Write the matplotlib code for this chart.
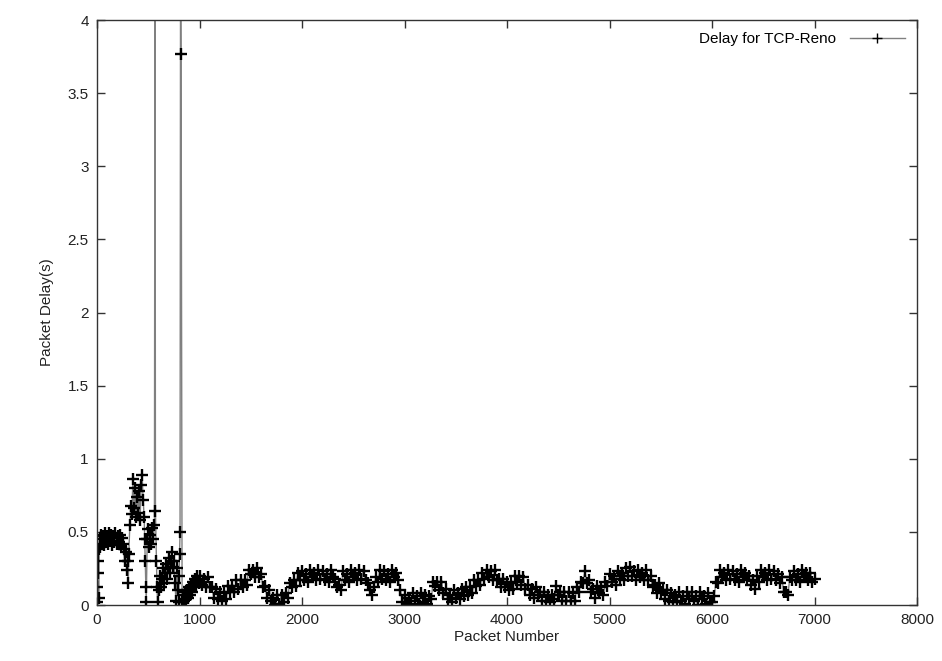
import matplotlib
matplotlib.use("Agg")
import matplotlib.pyplot as plt
import numpy as np
from matplotlib.ticker import FormatStrFormatter, MultipleLocator

plt.rcParams.update({"font.family": ["Liberation Sans", "DejaVu Sans"], "font.size": 11})

# --- packets 0..990, read point by point (the two spikes included) ---
early_points = [
    (0, 0.02), (4, 0.12), (8, 0.22), (12, 0.30), (16, 0.05), (20, 0.38), (25, 0.45), (30, 0.40),
    (40, 0.48), (50, 0.42), (60, 0.47), (70, 0.41), (80, 0.49), (90, 0.43), (100, 0.47),
    (110, 0.42), (120, 0.49), (130, 0.44), (140, 0.48), (150, 0.41), (160, 0.47), (170, 0.43),
    (180, 0.49), (190, 0.42), (200, 0.47), (210, 0.43), (220, 0.48), (230, 0.41), (240, 0.46),
    (250, 0.42), (260, 0.38), (270, 0.30), (280, 0.36), (290, 0.24), (300, 0.30), (305, 0.15),
    (310, 0.35), (320, 0.55), (330, 0.68), (340, 0.62), (350, 0.86), (360, 0.66), (370, 0.80),
    (380, 0.60), (390, 0.74), (400, 0.63), (410, 0.78), (420, 0.58), (430, 0.82), (440, 0.89),
    (450, 0.72), (460, 0.60), (465, 0.45), (470, 0.30), (475, 0.12), (480, 0.02), (490, 0.45),
    (500, 0.52), (510, 0.40), (520, 0.48), (530, 0.42), (540, 0.53), (550, 0.45), (560, 0.55),
    (566, 4.60), (570, 0.64), (580, 0.30), (585, 0.12), (590, 0.02), (600, 0.10), (610, 0.20),
    (620, 0.12), (630, 0.18), (640, 0.25), (650, 0.15), (660, 0.22), (670, 0.28), (680, 0.18),
    (690, 0.25), (700, 0.32), (710, 0.22), (720, 0.30), (730, 0.36), (740, 0.26), (750, 0.30),
    (760, 0.15), (770, 0.03), (780, 0.25), (790, 0.10), (795, 0.02), (800, 0.20), (805, 0.35),
    (810, 0.50), (815, 4.50), (820, 3.77), (830, 0.02), (840, 0.07), (850, 0.03), (860, 0.09),
    (870, 0.04), (880, 0.10), (890, 0.05), (900, 0.12), (910, 0.07), (920, 0.13), (930, 0.09),
    (940, 0.16), (950, 0.12), (960, 0.18), (970, 0.14), (980, 0.20), (990, 0.15),
]
early_packets = [p for p, _ in early_points]
early_delays = [d for _, d in early_points]

# --- packets 1000..7000, one value every 20 packets (10 per row = 200 packets) ---
main_start, main_step = 1000, 20
main_delays = [
    0.20, 0.14, 0.18, 0.12, 0.19, 0.12, 0.12, 0.05, 0.11, 0.04,  # 1000
    0.09, 0.03, 0.08, 0.04, 0.13, 0.09, 0.13, 0.09, 0.17, 0.11,  # 1200
    0.17, 0.12, 0.17, 0.14, 0.24, 0.21, 0.24, 0.19, 0.25, 0.19,  # 1400
    0.21, 0.12, 0.13, 0.05, 0.10, 0.03, 0.05, 0.00, 0.07, 0.01,  # 1600
    0.07, 0.02, 0.08, 0.05, 0.15, 0.12, 0.17, 0.13, 0.22, 0.17,  # 1800
    0.23, 0.17, 0.21, 0.16, 0.24, 0.19, 0.22, 0.17, 0.24, 0.18,  # 2000
    0.23, 0.17, 0.21, 0.16, 0.24, 0.19, 0.18, 0.12, 0.14, 0.10,  # 2200
    0.23, 0.17, 0.21, 0.16, 0.24, 0.19, 0.22, 0.17, 0.24, 0.18,  # 2400
    0.23, 0.17, 0.15, 0.10, 0.07, 0.12, 0.19, 0.16, 0.24, 0.18,  # 2600
    0.23, 0.17, 0.21, 0.16, 0.24, 0.19, 0.22, 0.17, 0.10, 0.02,  # 2800
    0.07, 0.01, 0.05, 0.00, 0.08, 0.03, 0.06, 0.01, 0.08, 0.02,  # 3000
    0.07, 0.01, 0.06, 0.04, 0.16, 0.13, 0.16, 0.10, 0.16, 0.08,  # 3200
    0.11, 0.04, 0.07, 0.02, 0.10, 0.05, 0.08, 0.04, 0.11, 0.06,  # 3400
    0.12, 0.07, 0.12, 0.08, 0.17, 0.13, 0.17, 0.14, 0.22, 0.18,  # 3600
    0.24, 0.19, 0.23, 0.17, 0.24, 0.17, 0.18, 0.12, 0.18, 0.12,  # 3800
    0.16, 0.10, 0.15, 0.11, 0.20, 0.16, 0.20, 0.14, 0.19, 0.11,  # 4000
    0.14, 0.07, 0.11, 0.05, 0.12, 0.07, 0.09, 0.03, 0.09, 0.03,  # 4200
    0.07, 0.02, 0.07, 0.04, 0.13, 0.07, 0.09, 0.03, 0.09, 0.03,  # 4400
    0.09, 0.03, 0.08, 0.03, 0.12, 0.09, 0.16, 0.15, 0.23, 0.15,  # 4600
    0.17, 0.09, 0.11, 0.05, 0.13, 0.08, 0.12, 0.07, 0.16, 0.13,  # 4800
    0.21, 0.16, 0.20, 0.14, 0.23, 0.18, 0.22, 0.17, 0.25, 0.20,  # 5000
    0.26, 0.20, 0.23, 0.17, 0.24, 0.19, 0.22, 0.17, 0.24, 0.17,  # 5200
    0.20, 0.12, 0.14, 0.08, 0.15, 0.09, 0.10, 0.04, 0.10, 0.03,  # 5400
    0.08, 0.02, 0.07, 0.02, 0.09, 0.03, 0.06, 0.01, 0.09, 0.04,  # 5600
    0.09, 0.03, 0.06, 0.00, 0.09, 0.04, 0.06, 0.01, 0.08, 0.02,  # 5800
    0.02, 0.06, 0.16, 0.15, 0.24, 0.19, 0.22, 0.17, 0.24, 0.18,  # 6000
    0.23, 0.17, 0.21, 0.16, 0.24, 0.19, 0.22, 0.17, 0.20, 0.14,  # 6200
    0.17, 0.11, 0.20, 0.16, 0.24, 0.19, 0.22, 0.17, 0.24, 0.18,  # 6400
    0.23, 0.17, 0.21, 0.15, 0.19, 0.09, 0.09, 0.07, 0.19, 0.17,  # 6600
    0.23, 0.17, 0.21, 0.16, 0.24, 0.19, 0.22, 0.17, 0.22, 0.16,  # 6800
    0.18,                                                        # 7000
]
main_packets = main_start + main_step * np.arange(len(main_delays))

packets = np.concatenate([early_packets, main_packets])
delays = np.concatenate([early_delays, main_delays])

fig = plt.figure(figsize=(9.42, 6.61), dpi=100)
ax = fig.add_axes([0.103, 0.0847, 0.8705, 0.885])

ax.plot(packets, delays, color="#808080", linewidth=1.0,
        marker="+", markersize=9, markeredgewidth=1.7,
        markeredgecolor="black", label="Delay for TCP-Reno")

ax.set_xlim(0, 8000)
ax.set_ylim(0, 4)
ax.xaxis.set_major_locator(MultipleLocator(1000))
ax.yaxis.set_major_locator(MultipleLocator(0.5))
ax.yaxis.set_major_formatter(FormatStrFormatter("%g"))
ax.tick_params(direction="in", length=6, width=1, top=True, right=True,
               colors="#333333", labelcolor="#222222", pad=6)
for s in ax.spines.values():
    s.set_color("#333333")
    s.set_linewidth(1.0)

ax.set_xlabel("Packet Number", color="#222222", labelpad=2)
ax.set_ylabel("Packet Delay(s)", color="#222222", labelpad=10)

leg = ax.legend(loc="upper right", frameon=False, markerfirst=False,
                handlelength=3.6, borderaxespad=0.4, handletextpad=0.9)
# legend sample in the reference uses a thin '+'
for h in leg.legend_handles:
    h.set_markeredgewidth(1.0)
    h.set_markersize(7)

fig.savefig("out.png", dpi=100)
